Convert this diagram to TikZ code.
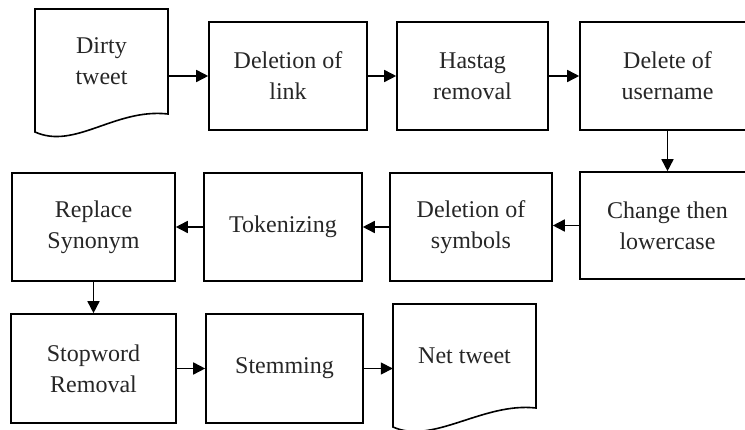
\documentclass[tikz,border=0pt]{standalone}
\usepackage{fontspec}
\setmainfont{Liberation Serif}
\usetikzlibrary{arrows.meta}
\begin{document}
\begin{tikzpicture}[x=1pt,y=-1pt,
  txt/.style={inner sep=0pt, align=center, font=\fontsize{24}{31}\selectfont, text=black!85},
  box/.style={txt, draw, line width=1.6pt},
  docline/.style={draw, line width=1.6pt},
  arr/.style={line width=1.6pt, -{Triangle[length=12pt,width=12pt]}}]
\useasboundingbox (0,0) rectangle (745,430);
\clip (0,0) rectangle (745,430);
% row 1
\node[txt, minimum width=133pt, minimum height=105pt] (dirty) at (101.5,61.5) {Dirty\\tweet};
\draw[docline] (35,132) -- (35,9) -- (168,9) -- (168,114)
  .. controls (115,108) and (75,150) .. (35,132) -- cycle;
\node[box, minimum width=158pt, minimum height=108pt] (link) at (288,76) {Deletion of\\link};
\node[box, minimum width=151pt, minimum height=108pt] (hash) at (472.5,76) {Hastag\\removal};
\node[box, minimum width=175pt, minimum height=108pt] (user) at (667.5,76) {Delete of\\username};
% row 2
\node[box, minimum width=163pt, minimum height=108pt] (repl) at (93.5,227) {Replace\\Synonym};
\node[box, minimum width=158pt, minimum height=108pt] (tok) at (283,227) {Tokenizing};
\node[box, minimum width=162pt, minimum height=108pt] (sym) at (471,227) {Deletion of\\symbols};
\node[box, minimum width=175pt, minimum height=107pt] (change) at (667.5,225.5) {Change then\\lowercase};
% row 3
\node[box, minimum width=165pt, minimum height=109pt] (stop) at (93.5,368.5) {Stopword\\Removal};
\node[box, minimum width=157pt, minimum height=109pt] (stem) at (284.5,368.5) {Stemming};
\node[txt, minimum width=143pt, minimum height=104pt] (net) at (464.5,356) {Net tweet};
\draw[docline] (393,427) -- (393,304) -- (536,304) -- (536,408)
  .. controls (483,402) and (433,445) .. (393,427) -- cycle;
% connectors
\draw[arr] (dirty.east |- link.west) -- (link.west);
\draw[arr] (link.east) -- (hash.west);
\draw[arr] (hash.east) -- (user.west);
\draw[arr] (user.south) -- (change.north);
\draw[arr] (change.west) -- (sym.east |- change.west);
\draw[arr] (sym.west) -- (tok.east);
\draw[arr] (tok.west) -- (repl.east);
\draw[arr] (repl.south) -- (stop.north);
\draw[arr] (stop.east) -- (stem.west);
\draw[arr] (stem.east) -- (stem.east -| net.west);
\end{tikzpicture}
\end{document}
